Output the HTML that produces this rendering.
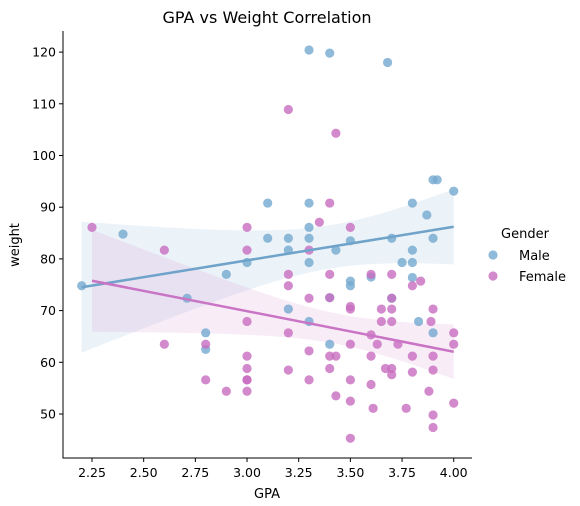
<!DOCTYPE html>
<html><head><meta charset="utf-8"><style>
body{margin:0;background:#fff;width:580px;height:506px;overflow:hidden}
svg{display:block;font-family:"DejaVu Sans","Liberation Sans",sans-serif}
</style></head><body>
<svg id="chart" width="580" height="506"></svg>
<script>
const maleGPA=[2.40,3.10,3.10,3.30,3.40,3.68,3.90,3.92,4.00,3.30,3.80,3.87,3.30,3.20,3.30,3.50,3.70,3.90,3.20,3.43,3.80,2.20,2.71,2.90,3.00,2.80,2.80,3.30,3.75,3.80,3.60,3.50,3.50,3.80,3.40,3.20,3.30,3.83,3.90,3.40,3.70];
const maleWeight=[84.8,90.8,84.0,120.4,119.8,118.0,95.3,95.3,93.1,90.8,90.8,88.5,86.1,84.0,84.0,83.5,84.0,84.0,81.7,81.7,81.7,74.8,72.4,77.0,79.3,65.7,62.5,79.3,79.3,79.3,76.5,75.7,74.8,76.4,72.5,70.3,67.9,67.9,65.7,63.5,72.4];
const femaleGPA=[2.25,2.60,3.00,3.00,3.20,3.43,3.40,3.35,3.50,3.30,3.00,2.60,2.80,3.00,3.00,3.00,2.80,2.90,3.00,3.20,3.40,3.60,3.70,3.84,3.80,3.20,3.30,3.40,3.70,3.50,3.50,3.65,3.70,3.90,3.65,3.70,3.89,3.20,3.60,4.00,4.00,3.50,3.63,3.73,3.30,3.40,3.43,3.60,3.80,3.90,3.20,3.40,3.67,3.70,3.70,3.80,3.90,3.30,3.50,3.60,3.43,3.88,3.50,4.00,3.61,3.77,3.90,3.90,3.50,3.00];
const femaleWeight=[86.1,81.7,86.1,81.7,108.9,104.3,90.8,87.1,86.1,81.7,67.9,63.5,63.5,61.2,58.8,56.6,56.6,54.4,54.4,77.0,77.0,77.0,77.0,75.7,74.8,74.8,72.4,72.5,72.4,70.8,70.3,70.3,70.3,70.3,67.9,67.9,67.9,65.7,65.3,65.7,63.5,63.5,63.5,63.5,62.2,61.2,61.2,61.2,61.2,61.2,58.5,58.8,58.8,58.8,57.6,58.1,58.5,56.6,56.6,55.7,53.5,54.4,52.5,52.1,51.1,51.1,49.8,47.4,45.3,56.6];
const xTicks=[2.25,2.50,2.75,3.00,3.25,3.50,3.75,4.00];
const yTicks=[50,60,70,80,90,100,110,120];
const xTickLabels=["2.25","2.50","2.75","3.00","3.25","3.50","3.75","4.00"];
const yTickLabels=["50","60","70","80","90","100","110","120"];

const NS="http://www.w3.org/2000/svg";
const svg=document.getElementById('chart');
const X=v=>92+(v-2.25)*206.7;
const Y=v=>414-(v-50)*5.17;
function mk(tag,attrs,parent){const e=document.createElementNS(NS,tag);for(const k in attrs)e.setAttribute(k,attrs[k]);(parent||svg).appendChild(e);return e;}

function fit(xs,ys){
  const n=xs.length;const mx=xs.reduce((a,b)=>a+b,0)/n,my=ys.reduce((a,b)=>a+b,0)/n;
  let sxx=0,sxy=0;for(let i=0;i<n;i++){sxx+=(xs[i]-mx)**2;sxy+=(xs[i]-mx)*(ys[i]-my);}
  const b=sxy/sxx,a=my-b*mx;let sse=0;for(let i=0;i<n;i++)sse+=(ys[i]-a-b*xs[i])**2;
  const s=Math.sqrt(sse/(n-2));return {a,b,mx,sxx,s,n,min:Math.min(...xs),max:Math.max(...xs)};
}
function drawReg(xs,ys,color,name){
  const f=fit(xs,ys);const up=[],lo=[];
  for(let i=0;i<=60;i++){const x=f.min+(f.max-f.min)*i/60;const y=f.a+f.b*x;
    const se=f.s*Math.sqrt(1/f.n+(x-f.mx)**2/f.sxx)*2.0;
    up.push(X(x).toFixed(1)+','+Y(y+se).toFixed(1));lo.unshift(X(x).toFixed(1)+','+Y(y-se).toFixed(1));}
  const band=mk('polygon',{points:up.concat(lo).join(' '),fill:color,'fill-opacity':0.15});
  
  
  return f;
}
function drawLine(f,color,name){
  const l=mk('line',{x1:X(f.min),y1:Y(f.a+f.b*f.min),x2:X(f.max),y2:Y(f.a+f.b*f.max),stroke:color,'stroke-width':2.5});
  
  
}
const mc='#74a9cf',fc='#c86dbf';
const fm=drawReg(maleGPA,maleWeight,'#7aa8d0','male');
const ff=drawReg(femaleGPA,femaleWeight,'#d27fcb','female');
function pts(xs,ys,color,name){
  for(let i=0;i<xs.length;i++){
    const c=mk('circle',{cx:X(xs[i]),cy:Y(ys[i]),r:4.6,fill:color,'fill-opacity':0.8});
    
    
  }
}
pts(maleGPA,maleWeight,mc,'male');
pts(femaleGPA,femaleWeight,fc,'female');
drawLine(fm,'#6fa3c9','male');
drawLine(ff,'#c974c4','female');

const ax=mk('path',{d:'M63,31V458H472',fill:'none',stroke:'#000','stroke-width':1});


xTicks.forEach((t,i)=>{
  mk('line',{x1:X(t),x2:X(t),y1:458,y2:462,stroke:'#000'});
  const tx=mk('text',{x:X(t),y:477,'font-size':12.5,'text-anchor':'middle',fill:'#000'});tx.textContent=xTickLabels[i];
  
  
});
yTicks.forEach((t,i)=>{
  mk('line',{x1:59,x2:63,y1:Y(t),y2:Y(t),stroke:'#000'});
  const tx=mk('text',{x:56,y:Y(t)+4.5,'font-size':12.5,'text-anchor':'end',fill:'#000'});tx.textContent=yTickLabels[i];
  
  
});
</script>
<svg width="580" height="506" style="position:absolute;left:0;top:0">
<g font-family="DejaVu Sans, Liberation Sans, sans-serif">
<text x="267" y="23" font-size="16" text-anchor="middle">GPA vs Weight Correlation</text>
<text x="267" y="498" font-size="13" text-anchor="middle">GPA</text>
<text transform="translate(19,245) rotate(-90)" font-size="13" text-anchor="middle">weight</text>
<text x="525" y="238" font-size="13" text-anchor="middle">Gender</text>
<g><circle cx="493" cy="255" r="4.6" fill="#74a9cf" fill-opacity="0.8"/><text x="519" y="260" font-size="13">Male</text></g>
<g><circle cx="493" cy="276" r="4.6" fill="#c86dbf" fill-opacity="0.8"/><text x="519" y="281" font-size="13">Female</text></g>
</g></svg>
</body></html>
